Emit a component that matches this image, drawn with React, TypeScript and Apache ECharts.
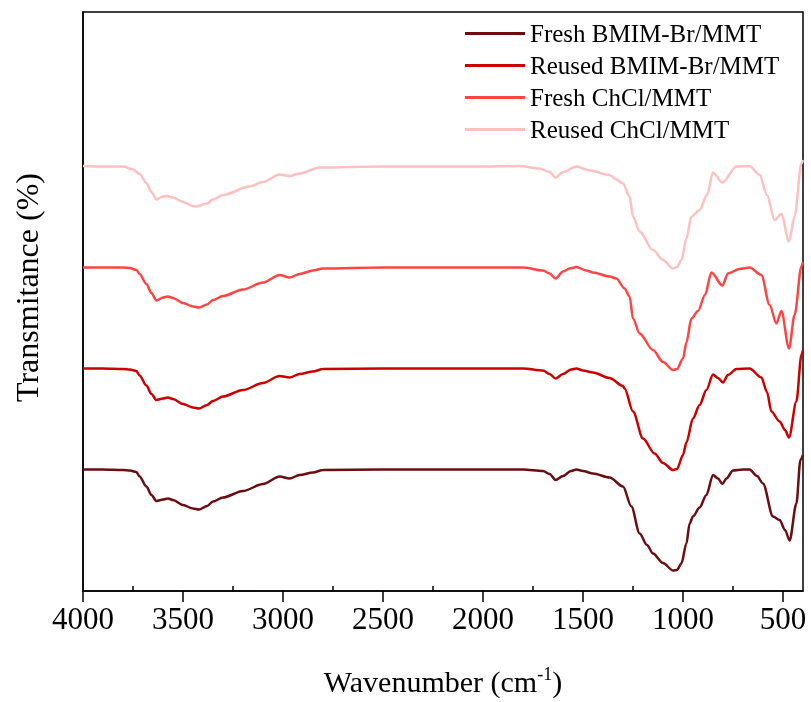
import React, { useEffect, useRef } from "react";
import * as echarts from "echarts";

const seriesNames = [
  "Fresh BMIM-Br/MMT",
  "Reused BMIM-Br/MMT",
  "Fresh ChCl/MMT",
  "Reused ChCl/MMT",
];
const seriesColors = ["#6b0e12", "#cc0000", "#ff4444", "#ffc0c0"];

const majorTicks = [500, 1000, 1500, 2000, 2500, 3000, 3500, 4000];
const minorTicks = [750, 1250, 1750, 2250, 2750, 3250, 3750];

const freshBMIM: [number, number][] = [
  [4000, 24.3], [3900, 24.3], [3800, 24.2], [3766, 24.1], [3733, 23.8], [3717, 22.9],
  [3683, 20.9], [3658, 19.2], [3633, 18.0], [3600, 18.3], [3575, 18.5], [3550, 18.2],
  [3500, 17.2], [3450, 16.5], [3420, 16.3], [3380, 17.0], [3350, 17.9], [3300, 18.7],
  [3200, 20.0], [3100, 21.4], [3017, 22.9], [2967, 22.5], [2917, 23.2], [2850, 23.7],
  [2800, 24.2], [2500, 24.3], [2000, 24.3], [1800, 24.3], [1700, 24.0], [1667, 23.4],
  [1637, 22.2], [1600, 23.0], [1560, 24.0], [1533, 24.3], [1500, 24.0], [1450, 23.5],
  [1367, 22.7], [1300, 20.9], [1258, 16.9], [1217, 11.5], [1180, 9.2], [1150, 7.5],
  [1100, 5.6], [1050, 4.1], [1030, 4.2], [1008, 5.5], [983, 9.5], [967, 13.5],
  [950, 14.9], [917, 16.7], [883, 19.2], [850, 23.2], [825, 22.5], [803, 21.4],
  [783, 22.5], [750, 24.1], [700, 24.3], [667, 24.3], [630, 23.0], [600, 21.5],
  [550, 14.9], [517, 14.2], [490, 12.2], [467, 10.1], [433, 17.5], [413, 26.2], [400, 27.2],
];

const reusedBMIM: [number, number][] = [
  [4000, 44.5], [3900, 44.5], [3800, 44.4], [3766, 44.3], [3733, 44.0], [3717, 43.1],
  [3683, 41.1], [3658, 39.4], [3633, 38.2], [3600, 38.5], [3575, 38.7], [3550, 38.4],
  [3500, 37.4], [3450, 36.7], [3420, 36.5], [3380, 37.2], [3350, 38.0], [3300, 38.9],
  [3200, 40.2], [3100, 41.6], [3017, 43.0], [2967, 42.7], [2917, 43.4], [2850, 43.9],
  [2800, 44.4], [2500, 44.5], [2000, 44.5], [1800, 44.5], [1700, 44.1], [1667, 43.4],
  [1637, 42.5], [1600, 43.4], [1560, 44.3], [1533, 44.5], [1500, 44.1], [1450, 43.7],
  [1367, 42.6], [1300, 41.0], [1292, 40.5], [1250, 35.9], [1200, 30.5], [1142, 27.5],
  [1100, 25.6], [1050, 24.2], [1030, 24.4], [1000, 27.2], [983, 29.7], [950, 34.5],
  [917, 37.2], [883, 40.2], [850, 43.3], [825, 42.6], [800, 41.7], [775, 43.2],
  [733, 44.4], [667, 44.5], [608, 42.7], [580, 39.8], [558, 35.9], [517, 33.9],
  [490, 32.2], [470, 30.7], [433, 37.9], [408, 47.2], [400, 48.2],
];

const freshChCl: [number, number][] = [
  [4000, 64.7], [3900, 64.7], [3800, 64.7], [3766, 64.6], [3733, 64.2], [3717, 63.4],
  [3683, 61.4], [3658, 59.6], [3633, 58.1], [3600, 58.7], [3575, 58.9], [3550, 58.6],
  [3500, 57.6], [3450, 56.9], [3420, 56.7], [3380, 57.3], [3350, 58.2], [3300, 59.0],
  [3200, 60.3], [3100, 61.7], [3017, 63.2], [2967, 62.7], [2917, 63.4], [2850, 64.1],
  [2800, 64.5], [2500, 64.7], [2000, 64.7], [1800, 64.7], [1700, 64.1], [1667, 63.5],
  [1637, 62.5], [1600, 63.9], [1567, 64.5], [1533, 64.8], [1483, 64.1], [1450, 63.7],
  [1367, 62.9], [1333, 62.5], [1292, 60.5], [1267, 58.9], [1250, 54.5], [1217, 51.5],
  [1150, 48.2], [1100, 45.8], [1050, 44.2], [1030, 44.4], [1000, 46.5], [983, 49.7],
  [958, 54.5], [925, 56.0], [890, 59.2], [858, 63.7], [803, 61.1], [775, 63.5],
  [717, 64.4], [667, 64.7], [608, 63.2], [567, 57.2], [533, 53.5], [508, 56.0],
  [470, 48.5], [442, 55.2], [408, 64.9], [400, 65.8],
];

const reusedChCl: [number, number][] = [
  [4000, 85.0], [3900, 84.9], [3800, 84.9], [3750, 84.3], [3717, 83.4], [3683, 81.6],
  [3658, 79.8], [3633, 78.3], [3600, 78.9], [3580, 79.0], [3550, 78.7], [3500, 77.8],
  [3450, 77.0], [3433, 76.9], [3380, 77.5], [3350, 78.3], [3300, 79.2], [3167, 80.9],
  [3100, 81.8], [3017, 83.3], [2967, 83.0], [2917, 83.5], [2817, 84.7], [2500, 84.9],
  [2000, 84.9], [1817, 85.0], [1717, 84.5], [1667, 83.8], [1637, 82.7], [1600, 83.8],
  [1533, 84.9], [1467, 84.1], [1367, 83.2], [1333, 82.3], [1300, 81.5], [1267, 78.9],
  [1250, 74.9], [1217, 71.9], [1150, 68.2], [1100, 66.2], [1050, 64.5], [1030, 64.8],
  [1008, 66.2], [983, 70.5], [958, 74.9], [917, 76.2], [880, 79.2], [850, 83.7],
  [803, 81.7], [733, 84.9], [667, 85.0], [617, 83.2], [580, 79.2], [542, 74.2],
  [508, 75.4], [470, 69.9], [442, 74.9], [408, 85.5], [400, 86.2],
];

const seriesData = [freshBMIM, reusedBMIM, freshChCl, reusedChCl];

const FONT = "Liberation Serif";
const AXIS_FONT = "serif";

export default function App() {
  const ref = useRef<HTMLDivElement>(null);

  useEffect(() => {
    if (!ref.current) return;
    const chart = echarts.init(ref.current, undefined, { renderer: "svg" });
    chart.setOption({
      animation: false,
      grid: {
        left: 83,
        right: 8,
        top: 12,
        bottom: 111,
        show: true,
        borderColor: "#000",
        borderWidth: 1.5,
      },
      legend: {
        orient: "vertical",
        left: 460,
        top: 16,
        icon: "rect",
        itemWidth: 60,
        itemHeight: 3,
        itemGap: 7,
        data: seriesNames,
        textStyle: { fontFamily: FONT, fontSize: 25, lineHeight: 25, color: "#000" },
      },
      xAxis: [
        {
          type: "value",
          min: 400,
          max: 4000,
          inverse: true,
          splitLine: { show: false },
          name: "{a|Wavenumber (cm}{b|-1}{a|)}",
          nameLocation: "middle",
          nameGap: 74,
          nameTextStyle: {
            fontFamily: AXIS_FONT,
            fontSize: 30,
            lineHeight: 32,
            color: "#000",
            rich: {
              a: { fontFamily: AXIS_FONT, fontSize: 30, color: "#000", lineHeight: 32 },
              b: { fontFamily: AXIS_FONT, fontSize: 18, color: "#000", verticalAlign: "top", lineHeight: 18 },
            },
          },
          axisLine: { show: true, onZero: false, lineStyle: { color: "#000", width: 1.5 } },
          axisTick: {
            show: true,
            inside: false,
            length: 11,
            customValues: majorTicks,
            lineStyle: { color: "#000", width: 1.5 },
          },
          axisLabel: {
            fontFamily: AXIS_FONT,
            fontSize: 31,
            lineHeight: 31,
            color: "#000",
            margin: 12,
            customValues: majorTicks,
            formatter: (v: number) => String(v),
          },
        },
        {
          type: "value",
          min: 400,
          max: 4000,
          inverse: true,
          splitLine: { show: false },
          axisLine: { show: false },
          axisTick: {
            show: true,
            inside: false,
            length: 5,
            customValues: minorTicks,
            lineStyle: { color: "#000", width: 1.5 },
          },
          axisLabel: { show: false },
        },
      ],
      yAxis: {
        type: "value",
        min: 0,
        max: 115.8,
        name: "Transmitance (%)",
        nameLocation: "middle",
        nameGap: 40,
        nameTextStyle: {
          fontFamily: AXIS_FONT,
          fontSize: 32,
          lineHeight: 32,
          color: "#000",
          padding: [0, 0, 0, 28],
        },
        axisLine: { show: true, lineStyle: { color: "#000", width: 1.5 } },
        axisTick: { show: false },
        axisLabel: { show: false },
        splitLine: { show: false },
      },
      series: seriesNames.map((name, i) => ({
        name,
        type: "line",
        xAxisIndex: 0,
        data: seriesData[i],
        symbol: "none",
        smooth: 0.3,
        smoothMonotone: "x",
        lineStyle: { color: seriesColors[i], width: 2.5 },
        itemStyle: { color: seriesColors[i] },
        z: 10 - i,
      })),
    });
    return () => chart.dispose();
  }, []);

  return (
    <div
      ref={ref}
      style={{ position: "fixed", left: 0, top: 0, width: 811, height: 702 }}
    />
  );
}
